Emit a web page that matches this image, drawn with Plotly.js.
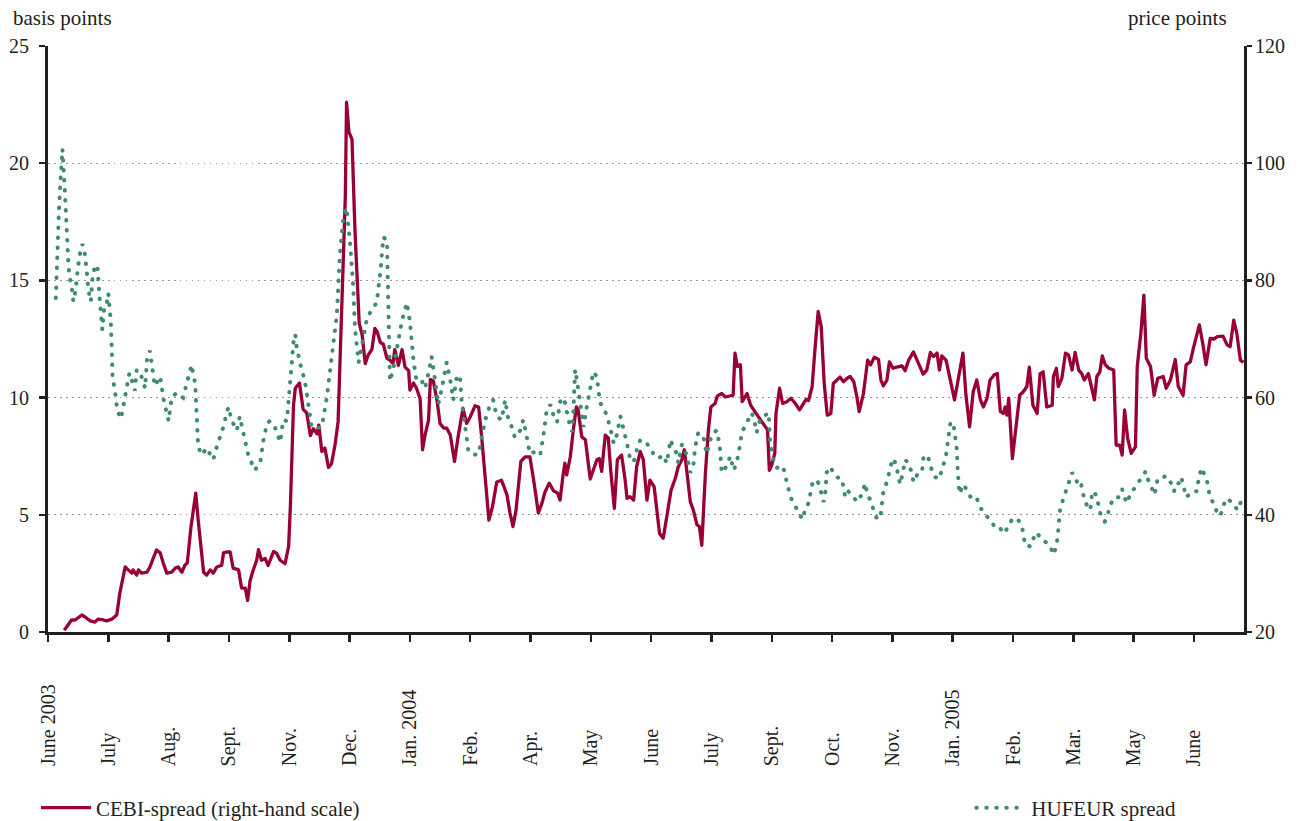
<!DOCTYPE html>
<html>
<head>
<meta charset="utf-8">
<script src="https://cdn.plot.ly/plotly-3.0.1.min.js"></script>
<style>
  html, body { margin: 0; padding: 0; background: #fff; }
  #chart { width: 1300px; height: 821px; }
</style>
</head>
<body>
<div id="chart"></div>
<script>
// ---- Data (x in "tick units": 0 = June 2003, 1 = July, ... as on the axis) ----
const tickLabels = ['June 2003','July','Aug.','Sept.','Nov.','Dec.','Jan. 2004','Feb.','Apr.','May','June','July','Sept.','Oct.','Nov.','Jan. 2005','Feb.','Mar.','May','June'];

// HUFEUR spread, basis points (left-hand scale)
const hufT = [0.13,0.15,0.18,0.21,0.24,0.28,0.30,0.31,0.34,0.36,
0.39,0.42,0.46,0.49,0.53,0.57,0.61,0.64,0.67,0.71,
0.74,0.78,0.82,0.85,0.88,0.90,0.93,0.96,1.00,1.02,
1.04,1.06,1.07,1.11,1.15,1.21,1.26,1.31,1.35,1.44,
1.47,1.55,1.61,1.64,1.69,1.77,1.86,1.91,2.00,2.05,
2.13,2.24,2.30,2.38,2.44,2.47,2.49,2.55,2.63,2.74,
2.82,2.88,2.99,3.05,3.13,3.18,3.24,3.32,3.43,3.52,
3.57,3.63,3.68,3.76,3.85,3.90,3.96,4.01,4.07,4.10,
4.12,4.18,4.26,4.32,4.37,4.46,4.54,4.62,4.70,4.79,
4.84,4.90,4.95,4.98,5.01,5.06,5.09,5.15,5.20,5.29,
5.37,5.45,5.51,5.56,5.62,5.64,5.67,5.73,5.81,5.87,
5.95,6.00,6.06,6.11,6.20,6.25,6.31,6.36,6.42,6.47,
6.53,6.61,6.67,6.72,6.78,6.83,6.86,6.92,6.97,7.05,
7.14,7.19,7.25,7.33,7.38,7.44,7.52,7.58,7.63,7.69,
7.74,7.83,7.88,7.94,7.99,8.08,8.16,8.21,8.27,8.33,
8.38,8.44,8.49,8.52,8.57,8.63,8.69,8.71,8.74,8.77,
8.82,8.88,8.93,8.99,9.04,9.10,9.15,9.24,9.32,9.38,
9.43,9.49,9.54,9.60,9.65,9.71,9.76,9.82,9.93,10.04,
10.12,10.20,10.26,10.32,10.37,10.43,10.45,10.51,10.59,10.65,
10.70,10.73,10.78,10.87,10.92,10.98,11.03,11.09,11.14,11.17,
11.26,11.31,11.37,11.42,11.48,11.50,11.59,11.67,11.72,11.75,
11.81,11.86,11.95,11.97,12.03,12.08,12.17,12.22,12.25,12.33,
12.42,12.51,12.55,12.61,12.67,12.75,12.80,12.86,12.89,12.91,
12.97,13.02,13.08,13.16,13.22,13.27,13.36,13.41,13.49,13.55,
13.58,13.63,13.69,13.74,13.80,13.85,13.91,13.94,13.99,14.02,
14.07,14.10,14.13,14.18,14.21,14.27,14.32,14.35,14.41,14.49,
14.52,14.60,14.66,14.71,14.79,14.82,14.88,14.90,14.93,14.96,
15.01,15.04,15.07,15.08,15.10,15.11,15.18,15.24,15.32,15.40,
15.46,15.54,15.62,15.68,15.76,15.84,15.93,15.98,16.07,16.15,
16.17,16.20,16.29,16.34,16.40,16.45,16.56,16.62,16.67,16.72,
16.74,16.75,16.77,16.78,16.83,16.88,16.93,16.98,17.04,17.09,
17.13,17.16,17.18,17.24,17.28,17.30,17.31,17.38,17.42,17.45,
17.52,17.57,17.61,17.68,17.75,17.81,17.83,17.89,17.94,18.03,
18.12,18.20,18.23,18.29,18.35,18.37,18.40,18.55,18.62,18.67,
18.71,18.76,18.79,18.83,18.87,18.98,19.05,19.08,19.13,19.16,
19.22,19.27,19.33,19.38,19.44,19.48,19.54,19.65,19.72,19.76,
19.80];
const hufV = [14.25,16.15,17.9,19.4,20.6,18.8,17.6,16.45,15.6,15.1,
14.8,14.1,14.6,15.4,16.15,16.55,16.15,15.45,14.6,14.1,
15.15,15.65,15.6,14.45,13.6,12.9,13.75,13.8,14.45,14.0,
13.3,11.9,10.9,10.3,9.45,9.1,9.8,10.6,11.05,10.3,
11.2,10.9,10.4,11.6,12.0,10.5,10.9,10.0,9.0,10.0,
10.2,10.0,10.6,11.4,10.6,9.3,7.9,7.55,7.85,7.35,
8.1,8.5,9.6,9.0,8.6,9.2,8.4,7.55,6.9,7.25,
8.15,8.9,9.0,8.75,8.1,9.05,9.0,10.7,12.35,12.7,
12.2,11.45,10.7,9.65,8.75,8.7,8.75,9.95,11.75,13.55,
16.1,17.75,18.1,17.3,16.55,14.75,12.95,11.5,12.2,13.4,
13.75,14.05,15.35,16.85,16.7,14.15,10.7,11.3,12.35,13.3,
14.05,13.25,11.6,10.7,10.7,10.4,11.05,11.75,10.7,9.7,
10.4,11.5,10.75,9.9,10.95,10.9,9.8,8.6,7.75,7.55,
7.6,8.3,9.05,9.7,9.9,9.2,9.05,9.9,9.1,8.75,
8.3,8.6,9.05,8.3,7.6,7.7,7.55,8.3,9.5,9.7,
9.25,8.95,9.8,10.0,9.8,9.05,8.55,9.35,11.2,10.75,
9.9,8.75,9.55,10.3,11.1,10.9,9.8,9.4,8.75,8.05,
8.4,9.2,8.7,8.05,7.4,7.25,7.75,8.2,8.05,7.6,
7.4,7.55,7.2,8.2,7.85,7.6,7.2,8.0,7.55,6.8,
7.1,7.9,8.5,8.3,7.6,8.2,8.5,8.6,7.9,6.8,
7.1,7.5,6.9,7.25,8.05,8.5,8.95,9.35,8.9,8.5,
9.1,9.2,9.35,8.2,7.35,7.0,7.1,6.8,6.35,5.65,
5.2,4.8,5.2,5.5,6.3,6.5,6.15,5.55,6.0,6.8,
7.05,6.8,6.6,6.55,5.75,6.0,5.75,5.55,5.85,6.35,
5.9,5.65,5.2,4.85,4.85,6.0,6.4,6.8,7.25,7.4,
7.05,6.6,6.3,6.9,7.35,7.2,6.8,6.4,6.7,6.8,
7.55,7.4,6.85,6.6,6.55,7.0,7.35,7.75,8.2,8.9,
8.95,8.4,7.75,7.05,6.2,5.9,6.3,6.0,5.65,5.7,
5.3,5.0,4.8,4.55,4.55,4.2,4.5,4.8,4.85,4.5,
4.05,3.7,3.65,4.0,4.25,4.0,3.8,3.65,3.3,3.65,
4.05,4.4,4.85,5.2,5.65,6.0,6.35,6.8,6.55,6.2,
6.3,6.0,5.6,5.35,5.2,5.6,6.0,5.85,5.45,5.05,
4.7,5.0,5.4,5.75,5.75,6.1,5.85,5.5,5.85,6.2,
6.5,6.85,6.55,6.2,5.85,6.2,6.55,6.65,6.35,6.0,
6.35,6.35,6.6,6.2,5.75,6.0,6.0,6.6,7.0,6.8,
6.4,5.7,5.5,5.1,4.95,5.35,5.7,5.5,5.2,5.4,
5.8];

// CEBI-spread, price points (right-hand scale)
const cebiT = [0.27,0.39,0.45,0.56,0.61,0.70,0.78,0.83,0.92,0.97,
1.06,1.14,1.19,1.28,1.33,1.39,1.41,1.47,1.50,1.55,
1.64,1.69,1.80,1.86,1.91,1.97,2.05,2.11,2.16,2.22,
2.27,2.31,2.37,2.45,2.49,2.58,2.63,2.69,2.74,2.80,
2.88,2.91,2.96,3.02,3.07,3.16,3.21,3.27,3.31,3.35,
3.40,3.46,3.49,3.54,3.60,3.65,3.74,3.79,3.85,3.93,
3.99,4.02,4.07,4.10,4.17,4.23,4.29,4.35,4.40,4.46,
4.49,4.54,4.59,4.65,4.70,4.76,4.81,4.87,4.93,4.95,
4.99,5.04,5.09,5.16,5.21,5.26,5.31,5.37,5.42,5.46,
5.51,5.56,5.62,5.67,5.72,5.75,5.81,5.87,5.92,5.98,
6.00,6.06,6.11,6.17,6.21,6.25,6.31,6.34,6.39,6.45,
6.50,6.56,6.61,6.67,6.74,6.80,6.88,6.94,7.00,7.08,
7.14,7.19,7.25,7.31,7.37,7.44,7.52,7.61,7.66,7.71,
7.76,7.84,7.91,7.99,8.06,8.13,8.19,8.24,8.31,8.38,
8.45,8.49,8.54,8.57,8.60,8.66,8.71,8.76,8.79,8.85,
8.91,8.99,9.04,9.10,9.14,9.18,9.24,9.29,9.33,9.39,
9.44,9.51,9.57,9.60,9.65,9.71,9.76,9.82,9.87,9.93,
9.98,10.05,10.14,10.20,10.26,10.33,10.40,10.45,10.51,10.55,
10.59,10.65,10.70,10.76,10.80,10.84,10.90,10.95,10.99,11.06,
11.10,11.17,11.23,11.31,11.36,11.39,11.43,11.48,11.51,11.59,
11.65,11.72,11.81,11.89,11.93,11.96,12.00,12.05,12.07,12.13,
12.18,12.25,12.32,12.39,12.46,12.52,12.57,12.61,12.67,12.72,
12.77,12.82,12.87,12.92,12.98,13.02,13.09,13.13,13.19,13.25,
13.30,13.36,13.41,13.45,13.52,13.59,13.64,13.70,13.77,13.81,
13.85,13.91,13.95,14.01,14.07,14.16,14.21,14.27,14.35,14.42,
14.51,14.57,14.63,14.68,14.74,14.78,14.82,14.89,14.96,15.03,
15.10,15.17,15.22,15.28,15.34,15.40,15.46,15.51,15.57,15.62,
15.69,15.74,15.79,15.84,15.87,15.90,15.93,15.95,15.99,16.05,
16.11,16.17,16.23,16.27,16.33,16.40,16.45,16.50,16.56,16.65,
16.67,16.72,16.75,16.81,16.87,16.92,16.98,17.03,17.09,17.14,
17.18,17.25,17.29,17.35,17.39,17.44,17.48,17.53,17.59,17.67,
17.71,17.77,17.81,17.85,17.90,17.96,18.03,18.06,18.12,18.17,
18.21,18.28,18.34,18.40,18.49,18.54,18.61,18.69,18.74,18.82,
18.87,18.94,18.99,19.09,19.15,19.20,19.27,19.33,19.39,19.48,
19.55,19.60,19.66,19.71,19.77,19.82];
const cebiV = [20.3,22.05,22.05,22.9,22.6,21.9,21.7,22.2,22.05,21.9,
22.2,22.9,26.6,31.1,30.6,30.05,30.6,29.7,30.6,30.05,
30.2,31.1,34.0,33.5,31.8,30.05,30.2,30.9,31.1,30.2,
31.4,31.8,37.9,43.7,39.1,30.2,29.7,30.6,30.05,31.1,
31.4,33.5,33.65,33.65,30.9,30.6,27.5,27.5,25.4,28.7,
30.5,32.25,34.05,32.25,32.55,31.35,33.75,33.45,32.25,31.65,
34.65,41.85,58.6,61.6,62.5,58.0,57.4,53.5,54.7,53.8,
55.3,50.8,51.4,48.1,48.7,52.0,55.9,76.6,94.5,110.4,
105.3,104.1,88.5,72.7,70.6,65.8,67.3,68.2,71.8,71.2,
69.4,69.1,66.7,66.4,65.8,68.2,65.5,68.2,65.2,64.6,
61.3,62.5,61.6,59.8,51.1,53.5,56.2,63.1,62.8,59.5,
55.6,54.8,54.8,53.6,49.1,53.3,58.2,55.6,56.7,58.6,
58.4,53.3,45.9,39.1,41.4,45.6,45.9,43.4,40.3,38.0,
40.8,49.1,49.9,49.9,45.4,40.3,42.0,43.9,45.4,44.1,
43.7,42.5,46.8,48.8,46.8,49.9,54.5,58.4,57.9,53.3,
52.8,46.1,47.6,49.4,49.6,47.4,53.6,53.1,47.6,41.1,
49.4,50.2,45.9,42.8,43.1,42.5,48.2,50.8,49.4,42.5,
45.9,44.8,36.8,36.0,39.7,44.2,46.2,48.2,49.4,51.1,
47.6,42.2,40.8,38.3,38.0,34.8,47.1,54.5,58.4,59.0,
60.3,60.7,60.1,60.3,60.4,67.6,65.3,65.6,59.3,60.7,
58.7,57.6,56.2,55.0,54.5,47.6,48.5,50.5,57.3,61.6,
59.0,59.3,59.9,59.0,57.9,58.9,59.7,59.5,61.9,68.7,
74.7,72.1,62.4,57.0,57.3,62.4,63.1,63.5,62.7,63.3,
63.6,62.7,60.2,57.6,60.7,66.4,65.6,66.9,66.5,63.0,
62.0,63.0,66.1,65.0,65.2,65.4,64.6,66.4,67.8,66.1,
64.0,64.7,67.7,67.0,67.6,64.7,67.1,66.4,63.0,59.6,
63.6,67.6,60.4,55.0,61.0,63.0,59.6,58.4,59.9,63.0,
63.9,64.1,57.6,57.3,58.4,57.0,59.9,55.6,49.6,55.0,
60.4,61.0,61.9,65.2,58.7,57.3,64.1,64.4,58.4,58.7,
63.6,65.0,61.9,63.3,67.6,67.3,64.7,67.7,64.7,64.1,
63.0,64.1,62.4,59.6,63.6,64.4,67.1,65.6,65.0,64.7,
51.9,51.9,50.2,57.9,53.1,50.5,51.6,65.3,71.0,77.5,
66.7,65.3,60.4,63.3,63.6,61.6,63.0,66.5,61.9,60.4,
65.6,66.1,68.4,72.4,69.0,65.6,70.1,70.0,70.4,70.5,
69.0,68.7,73.2,71.0,66.4,66.0];

// ---- Styling ----
const INK = '#231f20';
const RED = '#990033';
const GREEN = '#3f8c6f';
const FAMILY = 'Liberation Serif, Times New Roman, Times, serif';
const FONT = {family: FAMILY, size: 20, color: INK};
const FONT_L = {family: FAMILY, size: 21, color: INK};

const traces = [
  {
    x: cebiT, y: cebiV, yaxis: 'y', type: 'scatter', mode: 'lines',
    name: 'CEBI-spread (right-hand scale)',
    line: {color: RED, width: 3.3},
    legend: 'legend', hoverinfo: 'skip'
  },
  {
    x: hufT, y: hufV, yaxis: 'y2', type: 'scatter', mode: 'lines',
    name: 'HUFEUR spread',
    line: {color: GREEN, width: 4, dash: '0.5px,9.5px'},
    legend: 'legend2', hoverinfo: 'skip'
  }
];

const plotH = 821 - 46 - 189;
const annotations = tickLabels.map((lab, i) => ({
  text: lab, x: i, xref: 'x', y: -(768 - 632) / plotH, yref: 'paper',
  xanchor: 'center', yanchor: 'bottom', textangle: -90, showarrow: false, font: FONT
}));
annotations.push({text: 'basis points', x: (11 - 48) / 1196, xref: 'paper', y: 1 + (46 - 18) / plotH, yref: 'paper',
  xanchor: 'left', yanchor: 'middle', showarrow: false, font: FONT_L});
annotations.push({text: 'price points', x: (1229 - 48) / 1196, xref: 'paper', y: 1 + (46 - 18) / plotH, yref: 'paper',
  xanchor: 'right', yanchor: 'middle', showarrow: false, font: FONT_L});

const axisCommon = {
  showline: true, linecolor: INK, linewidth: 3, ticks: 'outside', tickcolor: INK,
  tickwidth: 2.5, ticklen: 6, tickfont: FONT, zeroline: false, fixedrange: true
};

const layout = {
  width: 1300, height: 821,
  margin: {l: 48, r: 56, t: 46, b: 189, autoexpand: false},
  paper_bgcolor: '#ffffff', plot_bgcolor: '#ffffff',
  font: FONT,
  showlegend: true,
  xaxis: Object.assign({}, axisCommon, {
    range: [0, 19.83], tickvals: tickLabels.map((_, i) => i), showticklabels: false,
    showgrid: false, ticklen: 7
  }),
  // right-hand scale (CEBI)
  yaxis: Object.assign({}, axisCommon, {
    side: 'right', range: [20, 120], tickvals: [20, 40, 60, 80, 100, 120],
    showgrid: false, ticklen: 5, ticklabelstandoff: -1
  }),
  // left-hand scale (HUFEUR), drawn on top
  yaxis2: Object.assign({}, axisCommon, {
    side: 'left', overlaying: 'y', range: [0, 25], tickvals: [0, 5, 10, 15, 20, 25],
    showgrid: true, gridcolor: '#9a9a9a', gridwidth: 1.2, griddash: '1.5px,4.5px',
    ticklabelstandoff: 6
  }),
  legend: {x: -0.01, y: -(808 - 632) / plotH, xanchor: 'left', yanchor: 'middle',
    orientation: 'h', font: FONT_L, bgcolor: 'rgba(0,0,0,0)', itemwidth: 50},
  legend2: {x: 0.772, y: -(808 - 632) / plotH, xanchor: 'left', yanchor: 'middle',
    orientation: 'h', font: FONT_L, bgcolor: 'rgba(0,0,0,0)', itemwidth: 50},
  annotations: annotations
};

function roundDots(gd) {
  gd.querySelectorAll('path').forEach(p => {
    const da = p.style.strokeDasharray;
    const stroke = (p.style.stroke || '').replace(/\s/g, '');
    if (da && da !== 'none' && (stroke === 'rgb(63,140,111)' || stroke.toLowerCase() === GREEN)) {
      p.style.strokeLinecap = 'round';
    }
    if (stroke === 'rgb(153,0,51)' || stroke.toLowerCase() === RED) {
      p.style.strokeLinejoin = 'round';
    }
  });
}

const gd = document.getElementById('chart');
Plotly.newPlot(gd, traces, layout, {staticPlot: true, displayModeBar: false}).then(() => {
  roundDots(gd);
  gd.on && gd.on('plotly_afterplot', () => roundDots(gd));
});
</script>
</body>
</html>
